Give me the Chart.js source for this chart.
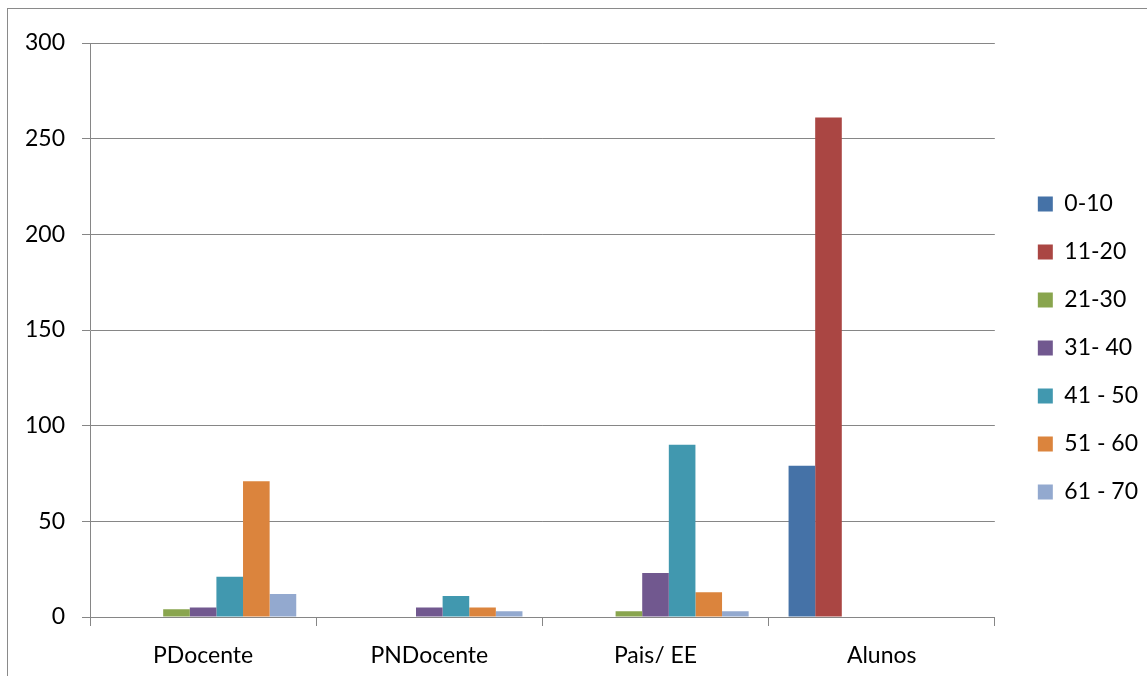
<!DOCTYPE html>
<html>
<head>
<meta charset="utf-8">
<script src="https://cdn.jsdelivr.net/npm/chart.js@4/dist/chart.umd.min.js"></script>
<style>
  html, body { margin: 0; padding: 0; background: #fff; overflow: hidden; }
  #frame {
    position: absolute; left: 7px; top: 8px; width: 1300px; height: 800px;
    border-left: 1px solid #8a8a8a; border-top: 1px solid #8a8a8a;
  }
  #wrap { position: absolute; left: 0; top: 0; width: 1148px; height: 676px; }
</style>
</head>
<body>
<div id="frame"></div>
<div id="wrap"><canvas id="chart"></canvas></div>
<script>
// Respondents by group and age band
const categories = ['PDocente', 'PNDocente', 'Pais/ EE', 'Alunos'];
const seriesNames = ['0-10', '11-20', '21-30', '31- 40', '41 - 50', '51 - 60', '61 - 70'];
const age0to10  = [0, 0, 0, 79];
const age11to20 = [0, 0, 0, 261];
const age21to30 = [4, 0, 3, 0];
const age31to40 = [5, 5, 23, 0];
const age41to50 = [21, 11, 90, 0];
const age51to60 = [71, 5, 13, 0];
const age61to70 = [12, 3, 3, 0];
const yTicks = [0, 50, 100, 150, 200, 250, 300];

const seriesValues = [age0to10, age11to20, age21to30, age31to40, age41to50, age51to60, age61to70];
const colors = ['#4572A7', '#AA4643', '#89A54E', '#71588F', '#4198AF', '#DB843D', '#93A9CF'];

const FONT = 'Lato, "Liberation Sans", sans-serif';
const AXIS_GRAY = '#868686';

// Shift the legend column a few pixels up after layout
const legendNudge = {
  id: 'legendNudge',
  afterLayout(chart) {
    if (chart.legend) { chart.legend.top -= 5; chart.legend.bottom -= 5; }
  }
};

new Chart(document.getElementById('chart'), {
  type: 'bar',
  data: {
    labels: categories,
    datasets: seriesNames.map((name, i) => ({
      label: name,
      data: seriesValues[i],
      backgroundColor: colors[i],
      borderWidth: 0,
      categoryPercentage: 7 / 8.5,
      barPercentage: 1
    }))
  },
  options: {
    responsive: true,
    maintainAspectRatio: false,
    animation: false,
    layout: { padding: { top: 43, bottom: 13, left: 0, right: 0 } },
    scales: {
      x: {
        grid: { drawOnChartArea: false, drawTicks: true, tickLength: 9, color: AXIS_GRAY, offset: true },
        border: { display: true, color: AXIS_GRAY, width: 1 },
        ticks: { color: '#000', font: { family: FONT, size: 23 }, padding: 16 },
        afterFit: s => { s.height = 46; }
      },
      y: {
        min: 0, max: 300,
        afterBuildTicks: s => { s.ticks = yTicks.map(v => ({ value: v })); },
        grid: { color: AXIS_GRAY, tickLength: 8, lineWidth: 1 },
        border: { display: true, color: AXIS_GRAY, width: 1 },
        ticks: { color: '#000', font: { family: FONT, size: 23 }, padding: 17 },
        afterFit: s => { s.width = 90; }
      },
      gap: {
        type: 'linear', position: 'right', display: true,
        grid: { display: false }, border: { display: false }, ticks: { display: false },
        afterFit: s => { s.width = 18; }
      }
    },
    plugins: {
      legend: {
        position: 'right',
        align: 'center',
        labels: {
          color: '#000',
          font: { family: FONT, size: 23 },
          boxWidth: 15, boxHeight: 15,
          padding: 25
        }
      },
      tooltip: { enabled: false }
    }
  },
  plugins: [legendNudge]
});
</script>
</body>
</html>
